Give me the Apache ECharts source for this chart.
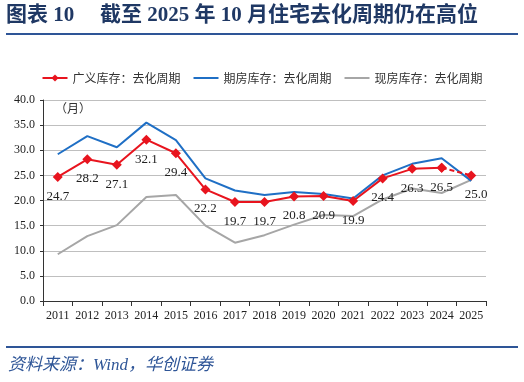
<!DOCTYPE html>
<html><head><meta charset="utf-8">
<script src="https://cdn.jsdelivr.net/npm/echarts@6/dist/echarts.min.js"></script>
<style>html,body{margin:0;padding:0;background:#fff}#c{width:524px;height:382px}</style>
</head><body><div id="c"></div>
<script>
var years = ['2011','2012','2013','2014','2015','2016','2017','2018','2019','2020','2021','2022','2023','2024','2025'];
var broadInv = [24.7,28.2,27.1,32.1,29.4,22.2,19.7,19.7,20.8,20.9,19.9,24.4,26.3,26.5,25.0];
var futuresInv = [29.2,32.8,30.6,35.5,32.0,24.4,22.0,21.1,21.7,21.3,20.4,25.0,27.3,28.4,23.9];
var spotInv = [9.3,12.9,15.1,20.7,21.1,15.0,11.6,13.1,15.2,17.1,16.9,20.2,22.4,21.5,24.1];
var yTicks = [0,5,10,15,20,25,30,35,40];

var serif = 'Liberation Serif, Times New Roman, serif';
var n = broadInv.length;
var solid = broadInv.map(function(v,i){return i < n-1 ? v : null;});
var dashed = broadInv.map(function(v,i){return i >= n-2 ? v : null;});

var chart = echarts.init(document.getElementById('c'));
var labelStyle = {show:true, position:'bottom', distance:8, color:'#222', fontFamily:serif, fontSize:13, formatter:function(p){return p.value==null?'':p.value.toFixed(1);}};
var noSym = {color:'rgba(0,0,0,0)', borderWidth:0};
chart.setOption({
  animation:false,
  graphic:[
    {type:'text', left:6, top:5, style:{text:'图表 10', fill:'#1F3864', font:'bold 21px "Liberation Serif", "Noto Sans CJK SC"'}},
    {type:'text', left:100, top:5, style:{text:'截至 2025 年 10 月住宅去化周期仍在高位', fill:'#1F3864', font:'bold 21px "Liberation Serif", "Noto Sans CJK SC"'}},
    {type:'rect', shape:{x:6, y:33, width:512, height:2}, style:{fill:'#2E5597'}},
    {type:'rect', shape:{x:6, y:346, width:512, height:2}, style:{fill:'#2E5597'}},
    {type:'text', left:8, top:357, style:{text:'资料来源：Wind，华创证券', fill:'#2E5597', font:'italic 17px "Liberation Serif", "Noto Sans CJK SC"'}},
    {type:'text', left:55, top:102, style:{text:'（月）', fill:'#333', font:'12px "Noto Sans CJK SC"'}}
  ],
  legend:{
    top:67, left:'center', itemWidth:25, itemHeight:9, itemGap:12,
    textStyle:{fontFamily:'Noto Sans CJK SC', fontSize:12, color:'#333'},
    data:[
      {name:'广义库存：去化周期'},
      {name:'期房库存：去化周期', itemStyle:noSym},
      {name:'现房库存：去化周期', itemStyle:noSym}
    ]
  },
  grid:{left:43, right:38, top:100, bottom:81},
  xAxis:{
    type:'category', data:years, boundaryGap:true,
    axisLine:{lineStyle:{color:'#333'}},
    axisTick:{show:true, length:5, lineStyle:{color:'#333'}},
    axisLabel:{fontFamily:serif, fontSize:12, color:'#222', margin:9, interval:0}
  },
  yAxis:{
    type:'value', min:yTicks[0], max:yTicks[yTicks.length-1], interval:5,
    axisLine:{show:true, lineStyle:{color:'#333'}},
    axisTick:{show:true, length:3, lineStyle:{color:'#333'}},
    axisLabel:{fontFamily:serif, fontSize:12, color:'#222', formatter:function(v){return v.toFixed(1);}},
    splitLine:{lineStyle:{color:'#BFBFBF'}}
  },
  series:[
    {name:'期房库存：去化周期', type:'line', data:futuresInv, symbol:'none', lineStyle:{color:'#1F6FC5', width:2}, itemStyle:{color:'#1F6FC5'}, z:2},
    {name:'现房库存：去化周期', type:'line', data:spotInv, symbol:'none', lineStyle:{color:'#A6A6A6', width:2}, itemStyle:{color:'#A6A6A6'}, z:1},
    {name:'广义库存：去化周期', type:'line', data:solid, symbol:'diamond', symbolSize:10, lineStyle:{color:'#E8141E', width:2}, itemStyle:{color:'#E8141E'}, label:labelStyle, z:3},
    {name:'dash', type:'line', data:dashed, symbol:'diamond', symbolSize:10, lineStyle:{color:'#E8141E', width:2, type:[5,3]}, itemStyle:{color:'#E8141E'}, label:Object.assign({}, labelStyle, {formatter:function(p){return p.dataIndex===n-1?p.value.toFixed(1):'';}, offset:[5,0]}), z:3}
  ]
});
</script></body></html>
